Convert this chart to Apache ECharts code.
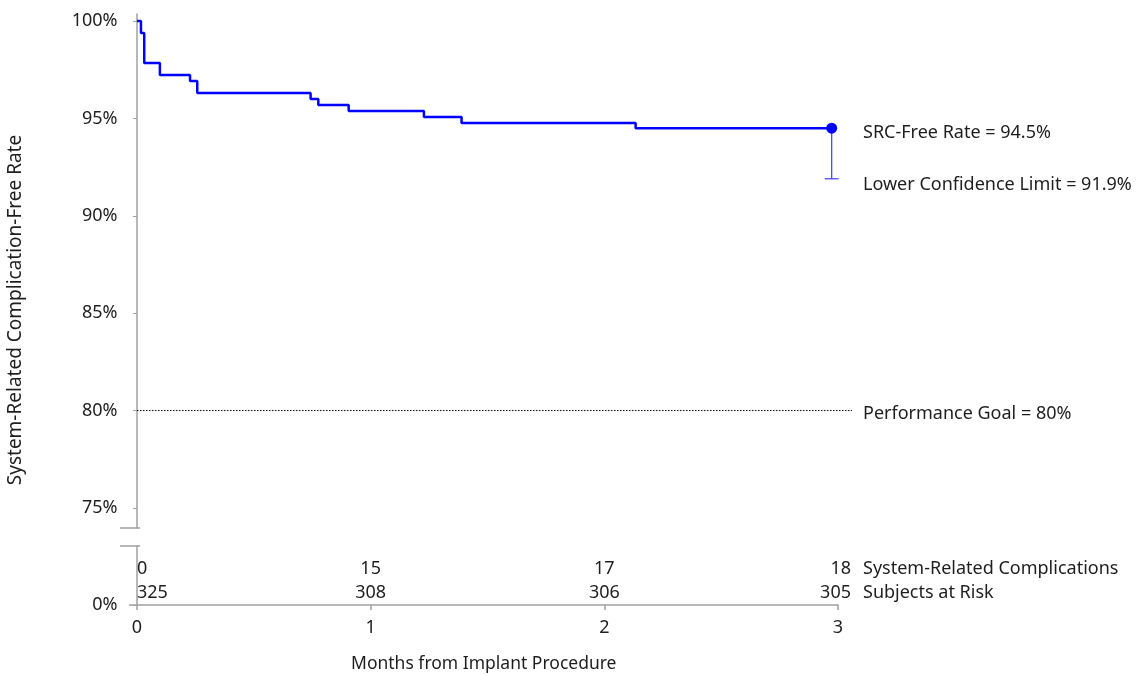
<!DOCTYPE html>
<html>
<head>
<meta charset="utf-8">
<script src="https://cdn.jsdelivr.net/npm/echarts@6/dist/echarts.min.js"></script>
<style>
html,body{margin:0;padding:0;background:#fff;}
#main{width:1138px;height:675px;}
</style>
</head>
<body>
<div id="main"></div>
<script>
// ---- data ----
var eventTimes = [0, 0.017, 0.031, 0.098, 0.227, 0.258, 0.743, 0.776, 0.906, 1.228, 1.389, 2.134, 2.973];
var freeRates  = [100, 99.38, 97.85, 97.23, 96.92, 96.31, 96.0, 95.69, 95.38, 95.07, 94.76, 94.5, 94.5];
var finalTime = 2.973;
var srcFreeRate = 94.5;
var lowerConfidenceLimit = 91.9;
var performanceGoal = 80;
var goalLineEnd = 3.06;
var yTickValues = [75, 80, 85, 90, 95, 100];
var monthTicks = [0, 1, 2, 3];
var complications = [0, 15, 17, 18];
var subjectsAtRisk = [325, 308, 306, 305];
var rowTitles = ['System-Related Complications', 'Subjects at Risk'];

var FONT = 'Noto Sans';
var FS = 18;
var TXT = '#1e1e1e';
var AXC = '#a0a0a0';
var row1Y = 0.61, row2Y = 0.203;

var chart = echarts.init(document.getElementById('main'));

function txt(x, y, s, align) {
  return { type: 'text', x: x, y: y, style: { text: String(s), fill: TXT, font: FS + 'px "' + FONT + '"', align: align || 'left', verticalAlign: 'middle' } };
}

var option = {
  animation: false,
  textStyle: { fontFamily: FONT },
  grid: [
    { left: 129.5, right: 300, top: 14, height: 514 },
    { left: 129.5, right: 300, top: 546, height: 59 }
  ],
  xAxis: [
    { gridIndex: 0, type: 'value', min: -0.032, max: 3, show: false },
    {
      gridIndex: 1, type: 'value', min: -0.032, max: 3,
      axisLine: { lineStyle: { color: AXC, width: 1.5 } },
      axisTick: { customValues: monthTicks, length: 5, lineStyle: { color: AXC, width: 1.5 } },
      axisLabel: { customValues: monthTicks, color: TXT, fontSize: FS, fontFamily: FONT, margin: 14 },
      splitLine: { show: false },
      name: 'Months from Implant Procedure',
      nameLocation: 'middle', nameGap: 50,
      nameTextStyle: { color: TXT, fontSize: 17.5, fontFamily: FONT }
    }
  ],
  yAxis: [
    {
      gridIndex: 0, type: 'value', min: 73.97, max: 100.36,
      axisLine: { show: true, lineStyle: { color: AXC, width: 1.5 } },
      axisTick: { show: true, customValues: yTickValues, length: 4, lineStyle: { color: AXC, width: 1 } },
      axisLabel: { customValues: yTickValues, formatter: '{value}%', color: TXT, fontSize: FS, fontFamily: FONT, margin: 12 },
      splitLine: { show: false }
    },
    {
      gridIndex: 1, type: 'value', min: 0, max: 1,
      axisLine: { show: true, lineStyle: { color: AXC, width: 1.5 } },
      axisTick: { show: true, customValues: [0], length: 4, lineStyle: { color: AXC, width: 1 } },
      axisLabel: { customValues: [0], formatter: '{value}%', color: TXT, fontSize: FS, fontFamily: FONT, margin: 12 },
      splitLine: { show: false }
    }
  ],
  series: [
    {
      type: 'line', xAxisIndex: 0, yAxisIndex: 0, step: 'end',
      data: eventTimes.map(function (t, i) { return [t, freeRates[i]]; }),
      showSymbol: false, symbol: 'none',
      lineStyle: { color: '#0000ff', width: 2.5 },
      z: 5
    },
    {
      // performance goal reference line + label
      type: 'custom', xAxisIndex: 0, yAxisIndex: 0, clip: false,
      data: [[0, performanceGoal, goalLineEnd]],
      renderItem: function (params, api) {
        var a = api.coord([api.value(0), api.value(1)]);
        var b = api.coord([api.value(2), api.value(1)]);
        var r = api.coord([3, api.value(1)]);
        return {
          type: 'group',
          children: [
            { type: 'line', shape: { x1: a[0], y1: a[1], x2: b[0], y2: b[1] }, style: { stroke: '#000', lineWidth: 1, lineDash: [1.5, 1.5] } },
            txt(r[0] + 25, a[1] + 3, 'Performance Goal = ' + performanceGoal + '%')
          ]
        };
      }
    },
    {
      type: 'custom', xAxisIndex: 0, yAxisIndex: 0, clip: false,
      data: [[finalTime, srcFreeRate, lowerConfidenceLimit]],
      renderItem: function (params, api) {
        var top = api.coord([api.value(0), api.value(1)]);
        var bot = api.coord([api.value(0), api.value(2)]);
        var right = api.coord([3, api.value(1)]);
        var tx = right[0] + 25;
        return {
          type: 'group',
          children: [
            { type: 'line', shape: { x1: top[0], y1: top[1], x2: bot[0], y2: bot[1] }, style: { stroke: '#3a3aff', lineWidth: 1.2 } },
            { type: 'line', shape: { x1: bot[0] - 7, y1: bot[1], x2: bot[0] + 7, y2: bot[1] }, style: { stroke: '#3a3aff', lineWidth: 1.2 } },
            { type: 'circle', shape: { cx: top[0], cy: top[1], r: 5.5 }, style: { fill: '#0000ff' } },
            txt(tx, top[1] + 5, 'SRC-Free Rate = ' + srcFreeRate + '%'),
            txt(tx, bot[1] + 6, 'Lower Confidence Limit = ' + lowerConfidenceLimit + '%')
          ]
        };
      },
      z: 6
    },
    {
      // at-risk table
      type: 'custom', xAxisIndex: 1, yAxisIndex: 1, clip: false,
      data: monthTicks.map(function (m, i) { return [m, complications[i], subjectsAtRisk[i], i]; }),
      renderItem: function (params, api) {
        var i = api.value(3);
        var last = monthTicks.length - 1;
        var p1 = api.coord([api.value(0), row1Y]);
        var p2 = api.coord([api.value(0), row2Y]);
        var align = i === 0 ? 'left' : (i === last ? 'right' : 'center');
        var dx = i === last ? 13 : 0;
        var kids = [
          txt(p1[0] + dx, p1[1], api.value(1), align),
          txt(p2[0] + dx, p2[1], api.value(2), align)
        ];
        if (i === last) {
          kids.push(txt(p1[0] + 25, p1[1], rowTitles[0], 'left'));
          kids.push(txt(p2[0] + 25, p2[1], rowTitles[1], 'left'));
        }
        return { type: 'group', children: kids };
      }
    }
  ],
  graphic: [
    { type: 'text', x: 16, y: 310, rotation: Math.PI / 2, style: { text: 'System-Related Complication-Free Rate', fill: TXT, font: '19px "' + FONT + '"', align: 'center', verticalAlign: 'middle' } },
    { type: 'line', shape: { x1: 120, y1: 528, x2: 140, y2: 528 }, style: { stroke: AXC, lineWidth: 1.5 } },
    { type: 'line', shape: { x1: 120, y1: 546, x2: 140, y2: 546 }, style: { stroke: AXC, lineWidth: 1.5 } }
  ]
};
chart.setOption(option);
</script>
</body>
</html>
